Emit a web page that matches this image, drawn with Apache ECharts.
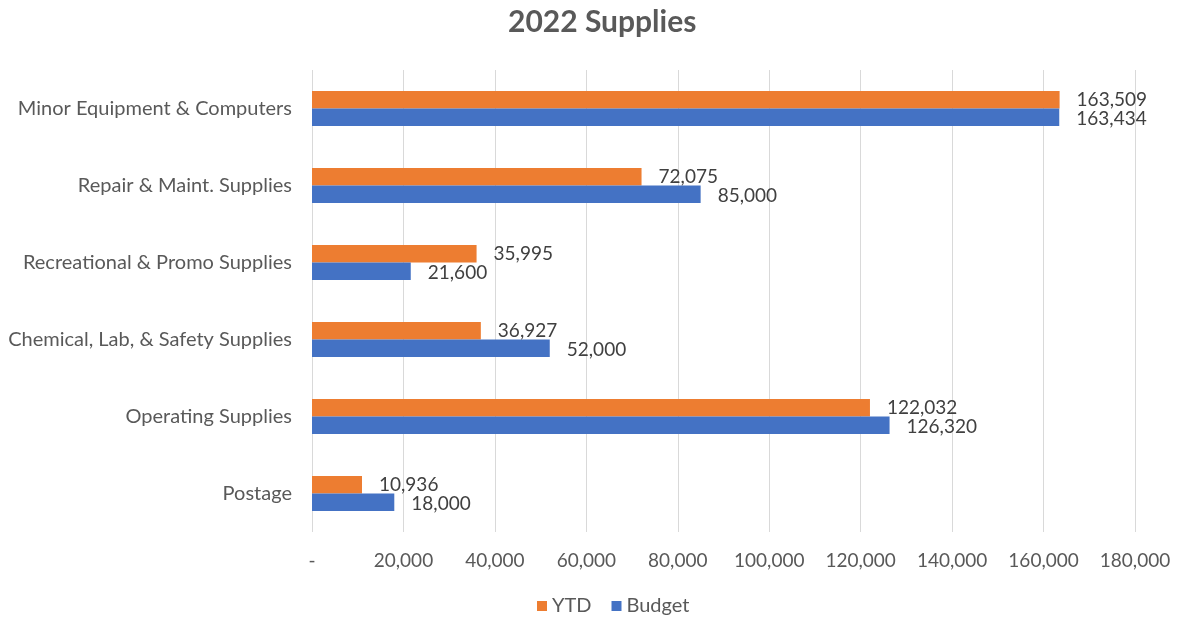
<!DOCTYPE html>
<html>
<head>
<meta charset="utf-8">
<script src="https://cdn.jsdelivr.net/npm/echarts@6/dist/echarts.min.js"></script>
<style>
  html, body { margin: 0; padding: 0; background: #fff; }
  #chart { width: 1178px; height: 621px; }
</style>
</head>
<body>
<div id="chart"></div>
<script>
// Supply categories, listed bottom to top
const categories = [
  'Postage',
  'Operating Supplies',
  'Chemical, Lab, & Safety Supplies',
  'Recreational & Promo Supplies',
  'Repair & Maint. Supplies',
  'Minor Equipment & Computers'
];
const ytdValues = [10936, 122032, 36927, 35995, 72075, 163509];
const budgetValues = [18000, 126320, 52000, 21600, 85000, 163434];
const xTicks = [0, 20000, 40000, 60000, 80000, 100000, 120000, 140000, 160000, 180000];

const FONT = 'Lato, "Open Sans", sans-serif';
const fmt = v => v === 0 ? '-' : Number(v).toLocaleString('en-US');

const chart = echarts.init(document.getElementById('chart'));
chart.setOption({
  animation: false,
  title: {
    text: '2022 Supplies',
    left: 503,
    top: 2,
    textStyle: { fontFamily: FONT, fontSize: 30, fontWeight: 'bold', color: '#595959' }
  },
  legend: {
    data: ['YTD', 'Budget'],
    bottom: 0,
    left: 532,
    itemWidth: 10,
    itemHeight: 10,
    itemGap: 20,
    icon: 'rect',
    textStyle: { fontFamily: FONT, fontSize: 20, color: '#595959' }
  },
  grid: { left: 312, right: 43, top: 70, bottom: 89 },
  xAxis: {
    type: 'value',
    min: xTicks[0],
    max: xTicks[xTicks.length - 1],
    interval: xTicks[1] - xTicks[0],
    axisLine: { show: false },
    axisTick: { show: false },
    splitLine: { lineStyle: { color: '#d9d9d9', width: 1 } },
    axisLabel: { formatter: fmt, fontFamily: FONT, fontSize: 19, color: '#595959', margin: 19 }
  },
  yAxis: {
    type: 'category',
    data: categories,
    axisLine: { show: false },
    axisTick: { show: false },
    axisLabel: { fontFamily: FONT, fontSize: 20, color: '#595959', margin: 20 }
  },
  series: [
    {
      name: 'YTD',
      type: 'bar',
      data: ytdValues,
      barWidth: 17.5,
      barGap: '0%',
      itemStyle: { color: '#ED7D31' },
      label: {
        show: true, position: 'right', distance: 17,
        formatter: p => fmt(p.value),
        fontFamily: FONT, fontSize: 19, color: '#404040', offset: [0, 0]
      }
    },
    {
      name: 'Budget',
      type: 'bar',
      data: budgetValues,
      barWidth: 17.5,
      barGap: '0%',
      itemStyle: { color: '#4472C4' },
      label: {
        show: true, position: 'right', distance: 17,
        formatter: p => fmt(p.value),
        fontFamily: FONT, fontSize: 19, color: '#404040', offset: [0, 2]
      }
    }
  ]
});
</script>
</body>
</html>
